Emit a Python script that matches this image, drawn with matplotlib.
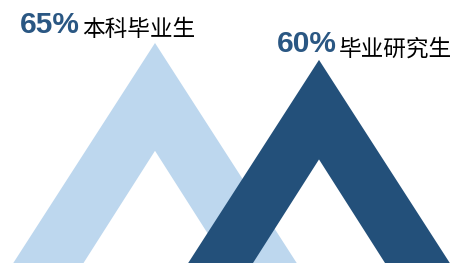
import matplotlib
matplotlib.use("Agg")
import matplotlib.pyplot as plt
from matplotlib.patches import Polygon

# data
labels = ["本科毕业生", "毕业研究生"]
values = [65, 60]
colors = ["#BDD7EE", "#23507A"]
centers = [155, 319]

fig = plt.figure(figsize=(4.55, 2.63), dpi=100)
ax = fig.add_axes([0, 0, 1, 1])
ax.set_xlim(0, 455)
ax.set_ylim(0, 263 / 3.385)
ax.axis("off")

# chevron: outer triangle minus inner one, all scaled by value
for c, v, col in zip(centers, values, colors):
    hw = 2.18 * v
    ihw = 1.1 * v
    ih = 0.51 * v
    pts = [(c - hw, 0), (c, v), (c + hw, 0),
           (c + ihw, 0), (c, ih), (c - ihw, 0)]
    ax.add_patch(Polygon(pts, closed=True, facecolor=col, edgecolor="none"))

# labels
text_pos = [(20, 67.9), (277, 62.3)]
for (x, y), v, lab in zip(text_pos, values, labels):
    ax.text(x, y, f"{v}%", fontsize=21.5, fontweight="bold", color="#2A5783",
            family="Liberation Sans", ha="left", va="baseline")
    ax.text(x + 62, y - 0.9, lab, fontsize=16.3, color="black",
            family=["Noto Sans CJK SC", "DejaVu Sans"], ha="left", va="baseline")

fig.savefig("out.png", dpi=100)
